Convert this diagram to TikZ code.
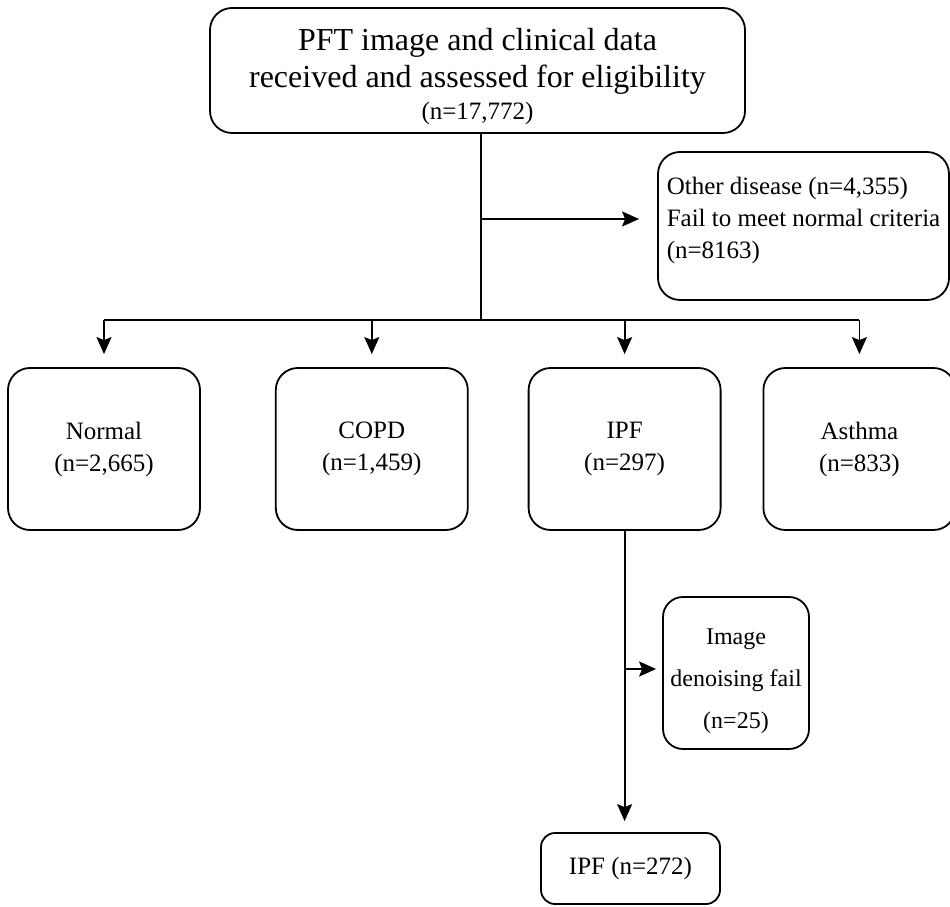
\documentclass[tikz,border=0pt]{standalone}
\usepackage{fontspec}
\setmainfont{Liberation Serif}
\usetikzlibrary{positioning, arrows.meta}

\begin{document}
\begin{tikzpicture}[
        x=1pt, y=1pt,
        node distance=60pt,
        box/.style={draw, rectangle, rounded corners=22pt, line width=1.8pt, align=center, inner sep=4pt, font=\fontsize{25}{32}\selectfont},
        classbox/.style={box, minimum width=192pt, minimum height=162pt},
        arrow/.style={-{Stealth[length=17pt, width=15pt, inset=3pt]}, line width=1.8pt},
        link/.style={line width=1.8pt}
    ]
        \useasboundingbox (0,0) rectangle (950,906);

        % Nodes
        \node[box, minimum width=535pt, minimum height=125pt, font=\fontsize{32}{37}\selectfont] (received) at (477.5,835.5) {\rule{0pt}{35pt}PFT image and clinical data\\ received and assessed for eligibility\\[-5pt] \fontsize{25}{30}\selectfont (n=17,772)};
        \node[box, minimum width=291pt, minimum height=148pt, align=left] (other) at (803.5,680) {Other disease (n=4,355)\\ Fail to meet normal criteria\\ (n=8163)\rule[-16pt]{0pt}{16pt}};

        \node[classbox] (normal) at (104,457) {Normal\\ (n=2,665)};
        \node[classbox, right=74pt of normal] (copd) {COPD\\ (n=1,459)};
        \node[classbox, right=59pt of copd] (ipf) {IPF\\ (n=297)};
        \node[classbox, right=41pt of ipf] (asthma) {Asthma\\ (n=833)};

        \node[box, rounded corners=20pt, minimum width=146pt, minimum height=152pt, font=\fontsize{24}{42}\selectfont] (denoise) at (736,233) {\rule{0pt}{33pt}Image\\ denoising fail\\ (n=25)};
        \node[box, rounded corners=14pt, minimum width=179pt, minimum height=71pt] (final) at (630.5,37.5) {IPF (n=272)};

        % Split points
        \coordinate (trunk) at ([xshift=3.5pt]received.south);
        \coordinate (bus) at (0,586);
        \coordinate (exsplit) at (trunk |- 0,687);
        \coordinate (dnsplit) at (ipf.south |- 0,237);

        % Arrows
        \draw[link] (trunk) -- (trunk |- bus);
        \draw[arrow, shorten >=18pt] (exsplit) -- (exsplit -| other.west);
        \draw[link] (normal.north |- bus) -- (asthma.north |- bus);
        \foreach \cls in {normal, copd, ipf, asthma}
            \draw[arrow, shorten >=13pt] (\cls.north |- bus) -- (\cls.north);
        \draw[arrow, shorten >=11pt] (ipf.south) -- (ipf.south |- final.north);
        \draw[arrow, shorten >=6pt] (dnsplit) -- (dnsplit -| denoise.west);
    \end{tikzpicture}
\end{document}
